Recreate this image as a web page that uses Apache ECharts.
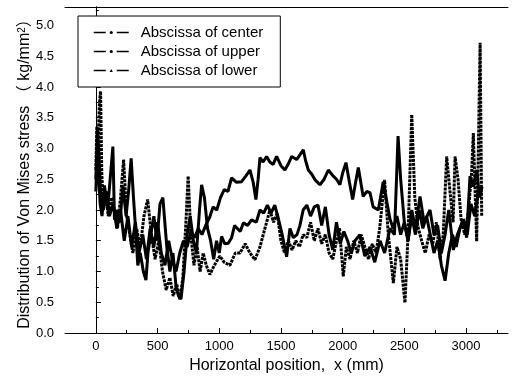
<!DOCTYPE html>
<html>
<head>
<meta charset="utf-8">
<script src="https://cdn.jsdelivr.net/npm/echarts@6/dist/echarts.min.js"></script>
<style>
  html, body { margin: 0; padding: 0; background: #fff; }
  #chart { width: 512px; height: 385px; }
</style>
</head>
<body>
<div id="chart"></div>
<script>
// series names as in the legend
var seriesNames = ['Abscissa of center', 'Abscissa of upper', 'Abscissa of lower'];

// tick labels
var xTicks = [0, 500, 1000, 1500, 2000, 2500, 3000];
var xMinorTicks = [250, 750, 1250, 1750, 2250, 2750, 3250];

// [x (mm), stress]
var centerPts = [
  [0, 2.5], [12, 3.3], [25, 2.9], [40, 2.2], [60, 2.0], [85, 2.3], [110, 1.9], [140, 2.1],
  [170, 1.7], [200, 2.0], [230, 1.5], [260, 1.9], [290, 1.4], [320, 1.8], [350, 1.3], [380, 1.6],
  [410, 1.2], [440, 1.7], [470, 1.4], [500, 1.8], [530, 1.3], [560, 1.1], [590, 1.5], [620, 1.2],
  [650, 1.0], [680, 1.3], [710, 1.5], [740, 1.4], [770, 1.65], [800, 1.55], [830, 1.7], [860, 1.6],
  [890, 1.75], [924, 1.89], [950, 2.05], [980, 2.0], [1010, 2.2], [1040, 2.33], [1070, 2.3], [1100, 2.52],
  [1140, 2.45], [1181, 2.46], [1215, 2.55], [1249, 2.65], [1275, 2.45], [1297, 2.17], [1315, 2.5], [1330, 2.85],
  [1355, 2.78], [1384, 2.87], [1410, 2.78], [1437, 2.74], [1465, 2.87], [1500, 2.72], [1532, 2.65], [1560, 2.75],
  [1587, 2.87], [1627, 2.82], [1655, 2.9], [1681, 2.98], [1700, 2.8], [1722, 2.65], [1750, 2.58], [1776, 2.49],
  [1816, 2.41], [1850, 2.5], [1884, 2.65], [1924, 2.55], [1950, 2.5], [1978, 2.41], [2000, 2.6], [2027, 2.77],
  [2055, 2.45], [2081, 2.17], [2105, 2.45], [2127, 2.69], [2166, 2.22], [2195, 2.3], [2222, 2.28], [2247, 2.05],
  [2289, 2.0], [2329, 2.46], [2359, 2.12], [2384, 1.85], [2410, 1.7], [2440, 1.9], [2470, 1.6], [2500, 1.8],
  [2530, 1.5], [2560, 1.9], [2590, 1.6], [2620, 2.0], [2650, 1.7], [2680, 1.9], [2710, 1.6], [2740, 1.3],
  [2770, 1.5], [2800, 1.1], [2830, 0.85], [2860, 1.3], [2890, 1.6], [2920, 1.4], [2950, 1.7], [2980, 1.85],
  [3010, 1.6], [3040, 2.1], [3070, 1.9], [3100, 2.3], [3125, 2.38]
];

var upperPts = [
  [0, 2.3], [10, 3.0], [22, 2.6], [35, 2.1], [50, 1.9], [70, 2.4], [95, 2.0], [120, 2.6],
  [138, 3.03], [151, 1.84], [170, 2.0], [195, 1.8], [219, 2.4], [245, 1.9], [265, 2.3], [286, 2.84],
  [305, 2.2], [325, 1.6], [340, 1.1], [360, 1.3], [385, 1.0], [406, 0.86], [422, 1.3], [445, 1.6],
  [470, 1.9], [495, 1.5], [520, 2.1], [543, 2.2], [557, 2.22], [575, 1.4], [600, 1.0], [625, 1.3],
  [650, 0.75], [670, 0.6], [690, 0.55], [715, 1.0], [740, 1.6], [765, 1.9], [790, 1.5], [815, 1.3],
  [840, 2.0], [857, 2.41], [880, 2.2], [905, 1.7], [930, 1.5], [955, 1.2], [978, 1.5], [1000, 1.3],
  [1019, 1.57], [1045, 1.45], [1073, 1.46], [1100, 1.55], [1125, 1.75], [1141, 1.71], [1170, 1.65], [1195, 1.79],
  [1230, 1.75], [1262, 1.84], [1300, 1.8], [1330, 2.0], [1360, 1.95], [1390, 2.08], [1420, 1.95], [1450, 2.08],
  [1480, 1.85], [1510, 1.6], [1546, 1.24], [1573, 1.7], [1600, 1.55], [1630, 1.6], [1654, 1.75], [1680, 2.0],
  [1710, 2.08], [1740, 1.9], [1770, 2.05], [1800, 2.08], [1830, 1.75], [1860, 2.05], [1890, 1.6], [1920, 1.35],
  [1950, 1.8], [1980, 1.45], [2010, 1.65], [2040, 1.5], [2070, 1.3], [2100, 1.5], [2140, 1.6], [2180, 1.25],
  [2222, 1.4], [2260, 1.15], [2303, 1.5], [2340, 1.3], [2384, 1.7], [2420, 1.6], [2449, 3.2], [2470, 2.5],
  [2500, 1.8], [2530, 1.5], [2560, 2.0], [2590, 1.7], [2627, 2.22], [2660, 1.8], [2708, 2.0], [2740, 1.6],
  [2770, 1.75], [2800, 1.3], [2830, 1.6], [2860, 2.0], [2897, 1.35], [2930, 1.6], [2978, 1.84], [3005, 1.55],
  [3032, 2.55], [3060, 2.38], [3086, 2.65], [3110, 2.2], [3130, 2.38]
];

var lowerPts = [
  [0, 2.65], [8, 3.36], [18, 3.0], [28, 3.7], [38, 3.93], [48, 2.6], [60, 2.1], [80, 2.3],
  [100, 1.9], [125, 2.2], [150, 2.0], [175, 1.7], [200, 2.2], [225, 2.82], [250, 1.9], [275, 1.6],
  [300, 1.3], [330, 1.7], [360, 1.4], [390, 1.9], [420, 2.17], [450, 1.6], [480, 1.2], [510, 1.5],
  [540, 1.0], [570, 0.7], [600, 0.9], [627, 0.6], [655, 0.8], [681, 0.54], [705, 0.9], [730, 1.8],
  [748, 2.55], [770, 1.6], [795, 1.1], [820, 1.4], [845, 1.0], [870, 1.3], [895, 1.1], [924, 0.95],
  [960, 1.1], [1005, 1.25], [1040, 1.15], [1086, 1.1], [1130, 1.3], [1168, 1.3], [1210, 1.45], [1249, 1.3],
  [1289, 1.19], [1330, 1.4], [1370, 1.7], [1411, 2.0], [1440, 1.8], [1470, 1.95], [1500, 1.5], [1530, 1.3],
  [1560, 1.5], [1590, 1.35], [1620, 1.5], [1650, 1.4], [1680, 1.6], [1710, 1.55], [1740, 1.8], [1770, 1.5],
  [1800, 1.7], [1830, 1.45], [1860, 1.6], [1890, 1.3], [1920, 1.2], [1950, 1.5], [1975, 1.7], [2005, 0.92],
  [2030, 1.4], [2060, 1.2], [2090, 1.5], [2120, 1.3], [2150, 1.6], [2180, 1.4], [2210, 1.2], [2240, 1.45],
  [2270, 1.3], [2300, 1.7], [2340, 2.49], [2370, 1.6], [2411, 0.81], [2440, 1.4], [2470, 1.2], [2505, 0.49],
  [2530, 1.6], [2560, 3.55], [2585, 2.2], [2610, 1.73], [2640, 1.5], [2670, 1.3], [2700, 1.6], [2730, 1.45],
  [2760, 1.8], [2790, 1.2], [2815, 1.6], [2843, 2.87], [2870, 2.3], [2895, 1.8], [2911, 2.87], [2935, 2.5],
  [2960, 1.84], [2990, 1.6], [3020, 2.0], [3045, 2.6], [3059, 3.25], [3075, 2.2], [3086, 1.49], [3100, 3.0],
  [3114, 4.72], [3127, 1.9]
];

var FONT = '"Liberation Sans", Arial, "Noto Sans CJK SC", sans-serif';
var chart = echarts.init(document.getElementById('chart'), null, { renderer: 'canvas' });

function makeSeries(name, pts, symbol, dash) {
  return {
    name: name,
    type: 'line',
    data: pts,
    xAxisIndex: 0,
    yAxisIndex: 0,
    symbol: symbol,
    showSymbol: false,
    itemStyle: { color: '#000' },
    lineStyle: { color: '#000', width: 3, type: dash },
    animation: false
  };
}

chart.setOption({
  backgroundColor: '#fff',
  textStyle: { fontFamily: FONT, color: '#000' },
  grid: { left: 65, right: 4, top: 7, bottom: 52 },
  legend: {
    orient: 'vertical',
    left: 78,
    top: 16,
    itemWidth: 35,
    itemHeight: 4,
    itemGap: 4,
    padding: [9, 17, 9, 15],
    borderColor: '#000',
    borderWidth: 1,
    backgroundColor: '#fff',
    lineStyle: { type: [12, 11], width: 1.5 },
    textStyle: { fontFamily: FONT, fontSize: 15, color: '#000', padding: [0, 0, 0, 7] },
    data: seriesNames
  },
  xAxis: [
    {
      type: 'value', position: 'bottom', min: -250, max: 3340,
      name: 'Horizontal position,  x (mm)', nameLocation: 'middle', nameGap: 25,
      nameMoveOverlap: false,
      nameTextStyle: { fontFamily: FONT, fontSize: 16, color: '#000' },
      axisLine: { lineStyle: { color: '#000', width: 1 } },
      axisTick: { inside: true, length: 5, lineStyle: { color: '#000' }, customValues: xTicks },
      axisLabel: {
        color: '#000', fontSize: 13, fontFamily: FONT, margin: 7, customValues: xTicks,
        formatter: function (v) { return String(v); }
      },
      splitLine: { show: false }
    },
    {
      type: 'value', position: 'bottom', min: -250, max: 3340,
      axisLine: { show: false },
      axisTick: { inside: true, length: 3, lineStyle: { color: '#000' }, customValues: xMinorTicks },
      axisLabel: { show: false },
      splitLine: { show: false }
    },
    {
      type: 'value', position: 'top', min: -250, max: 3340,
      axisLine: { lineStyle: { color: '#000', width: 1 } },
      axisTick: { show: false }, axisLabel: { show: false }, splitLine: { show: false }
    }
  ],
  yAxis: [
    {
      type: 'value', position: 'left', min: 0, max: 5.3, interval: 0.5,
      name: 'Distribution of Von Mises stress （ kg/mm{s|2}）',
      nameLocation: 'middle', nameGap: 32,
      nameMoveOverlap: false,
      nameTextStyle: {
        fontFamily: FONT, fontSize: 16, color: '#000',
        rich: { s: { fontFamily: FONT, fontSize: 10, color: '#000', verticalAlign: 'top', lineHeight: 10 } }
      },
      axisLine: { lineStyle: { color: '#000', width: 1 } },
      axisTick: { inside: true, length: 5, lineStyle: { color: '#000' } },
      minorTick: { show: true, splitNumber: 2, length: 3, lineStyle: { color: '#000' } },
      axisLabel: {
        color: '#000', fontSize: 13, fontFamily: FONT, margin: 11, showMaxLabel: false,
        formatter: function (v) { return v.toFixed(1); }
      },
      splitLine: { show: false }
    },
    {
      type: 'value', position: 'right', min: 0, max: 5.3,
      axisLine: { show: true, lineStyle: { color: '#000', width: 1 } },
      axisTick: { show: false }, axisLabel: { show: false }, splitLine: { show: false }
    }
  ],
  series: [
    makeSeries(seriesNames[0], centerPts, 'circle', 'solid'),
    makeSeries(seriesNames[1], upperPts, 'circle', 'solid'),
    makeSeries(seriesNames[2], lowerPts, 'triangle', [3, 1])
  ]
});
</script>
</body>
</html>
